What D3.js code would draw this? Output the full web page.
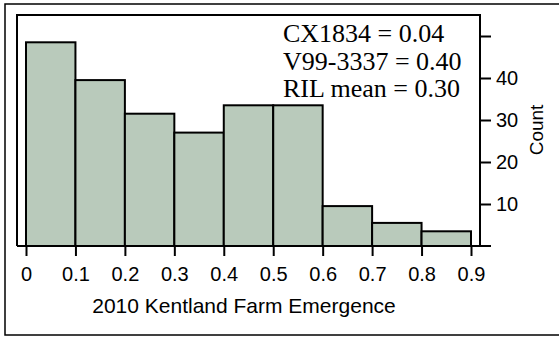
<!DOCTYPE html>
<html>
<head>
<meta charset="utf-8">
<script src="https://cdn.jsdelivr.net/npm/d3@7"></script>
<style>
  body { margin: 0; background: #fff; }
  .axis text { font-family: "Liberation Sans", Arial, sans-serif; font-size: 20px; fill: #000; }
  .axis line { stroke: #000; stroke-width: 2; }
</style>
</head>
<body>
<script>
// histogram bins (left edges) and counts
var binStarts = [0, 0.1, 0.2, 0.3, 0.4, 0.5, 0.6, 0.7, 0.8];
var counts = [48.5, 39.5, 31.5, 27, 33.5, 33.5, 9.5, 5.5, 3.5];
var xTicks = [0, 0.1, 0.2, 0.3, 0.4, 0.5, 0.6, 0.7, 0.8, 0.9];
var yTicks = [10, 20, 30, 40, 50];
var notes = ["CX1834 = 0.04", "V99-3337 = 0.40", "RIL mean = 0.30"];

var width = 559, height = 338;
var binWidth = 0.1;

var x = d3.scaleLinear().domain([0, 0.9]).range([26, 471]);
var y = d3.scaleLinear().domain([0, 50]).range([246, 36]);

var svg = d3.select('body').append('svg')
    .attr('width', width)
    .attr('height', height);

// outer frame (right side runs off the picture)
svg.append('rect')
    .attr('x', 5).attr('y', 4)
    .attr('width', 600).attr('height', 331)
    .attr('fill', 'none')
    .attr('stroke', '#000')
    .attr('stroke-width', 1.5);

// bars
svg.append('g').selectAll('rect')
    .data(counts)
    .enter().append('rect')
    .attr('x', function(d, i) { return x(binStarts[i]); })
    .attr('y', function(d) { return y(d); })
    .attr('width', function(d, i) { return x(binStarts[i] + binWidth) - x(binStarts[i]); })
    .attr('height', function(d) { return y(0) - y(d); })
    .attr('fill', '#b9cabb')
    .attr('stroke', '#000')
    .attr('stroke-width', 2);

// plot frame: left, top, right (right is the y axis line)
svg.append('path')
    .attr('d', 'M17,' + y(0) + 'V15H480V' + y(0))
    .attr('fill', 'none')
    .attr('stroke', '#000')
    .attr('stroke-width', 2);

// baseline, runs out to the end of the y ticks
svg.append('line')
    .attr('x1', 17).attr('x2', 491)
    .attr('y1', y(0)).attr('y2', y(0))
    .attr('stroke', '#000')
    .attr('stroke-width', 2);

// x axis
var xAxis = d3.axisBottom(x)
    .tickValues(xTicks)
    .tickSize(10)
    .tickPadding(11)
    .tickFormat(function(d) { return d === 0 ? '0' : d3.format('.1f')(d); });

svg.append('g')
    .attr('class', 'axis')
    .attr('transform', 'translate(0,' + y(0) + ')')
    .call(xAxis)
    .call(function(g) { g.select('.domain').remove(); });

// y axis on the right
var yAxis = d3.axisRight(y)
    .tickValues(yTicks)
    .tickSize(11)
    .tickPadding(5)
    .tickFormat(function(d) { return d === 50 ? '' : d; });

svg.append('g')
    .attr('class', 'axis')
    .attr('transform', 'translate(480,0)')
    .call(yAxis)
    .call(function(g) { g.select('.domain').remove(); });

// axis titles
svg.append('text')
    .attr('x', 244).attr('y', 313)
    .attr('text-anchor', 'middle')
    .style('font-family', '"Liberation Sans", Arial, sans-serif')
    .style('font-size', '21px')
    .text('2010 Kentland Farm Emergence');

svg.append('text')
    .attr('transform', 'translate(543,130) rotate(-90)')
    .attr('text-anchor', 'middle')
    .style('font-family', '"Liberation Sans", Arial, sans-serif')
    .style('font-size', '19px')
    .text('Count');

// annotation
svg.append('g').selectAll('text')
    .data(notes)
    .enter().append('text')
    .attr('x', 283)
    .attr('y', function(d, i) { return 42 + i * 27.5; })
    .style('font-family', '"Liberation Serif", "Times New Roman", serif')
    .style('font-size', '26px')
    .text(function(d) { return d; });
</script>
</body>
</html>
